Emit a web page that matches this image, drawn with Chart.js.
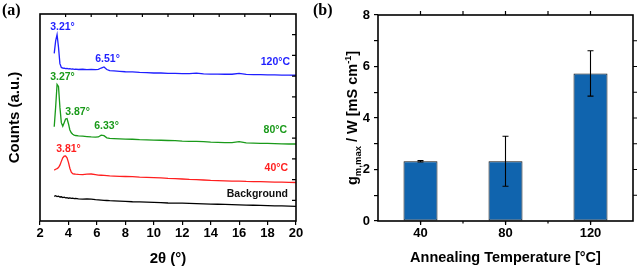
<!DOCTYPE html>
<html>
<head>
<meta charset="utf-8">
<script src="https://cdn.jsdelivr.net/npm/chart.js@4"></script>
<style>
  body { margin: 0; background: #fff; }
  #wrap { position: relative; width: 640px; height: 268px; }
  canvas { position: absolute; top: 0; }
  .panel { position: absolute; top: 1px; font: bold 16px "Liberation Serif", "Times New Roman", serif; color: #000; }
</style>
</head>
<body>
<div id="wrap">
  <canvas id="xrd" width="320" height="268" style="left:0"></canvas>
  <canvas id="gm" width="320" height="268" style="left:320px"></canvas>
  <div class="panel" style="left:2px">(a)</div>
  <div class="panel" style="left:313px">(b)</div>
</div>
<script>
// (a) XRD patterns, counts in arbitrary units
const twoTheta = [3.0, 3.1, 3.2, 3.3, 3.4, 3.5, 3.6, 3.7, 3.8, 3.9, 4.0, 4.1, 4.2, 4.3, 4.4, 4.5, 4.7,
  5.0, 5.3, 5.6, 5.9, 6.1, 6.3, 6.5, 6.7, 6.9, 7.2, 7.6, 8.0, 8.5, 9.0, 9.5, 10, 10.5, 11, 11.5,
  12, 12.5, 13, 13.5, 14, 14.5, 15, 15.5, 16, 16.5, 17, 17.5, 18, 18.5, 19, 19.5, 20];
const counts120 = [81, 87, 90, 84, 76, 74.2, 73.9, 73.8, 73.6, 73.7, 73.5, 73.6, 73.4, 73.5, 73.3, 73.4, 73.2,
  73.3, 73.1, 73.2, 73.1, 73.3, 73.9, 74.4, 73.2, 72.6, 72.5, 72.3, 72.1, 72.0, 71.8, 71.7, 71.5, 71.5, 71.3, 71.3,
  71.2, 71.2, 71.4, 71.1, 71.0, 71.0, 70.9, 70.9, 71.3, 70.8, 70.7, 70.7, 70.6, 70.6, 70.5, 70.5, 70.4];
const counts80 = [45.5, 55, 66, 65, 55, 47.5, 45.8, 47.5, 49.3, 49.5, 47, 44, 42.6, 41.9, 41.5, 41.3, 41.1,
  41.0, 40.8, 40.6, 40.5, 40.6, 41.5, 41.2, 40.2, 39.9, 39.8, 39.7, 39.6, 39.5, 39.3, 39.2, 39.1, 39.0, 38.9, 38.8,
  38.6, 38.5, 38.5, 38.3, 38.1, 38.0, 37.9, 37.9, 38.3, 37.7, 37.6, 37.5, 37.5, 37.4, 37.3, 37.2, 37.2];
const counts40 = [24.6, 25.0, 25.3, 25.8, 27, 28.8, 30.5, 31.3, 31.4, 30.5, 28.3, 25.5, 23.6, 22.9, 22.7, 22.6, 22.5,
  22.4, 22.6, 22.7, 22.4, 22.2, 22.1, 22.0, 21.9, 21.8, 21.7, 21.6, 21.5, 21.4, 21.2, 21.1, 21.0, 20.8, 20.6, 20.5,
  20.3, 20.1, 20.0, 19.8, 19.6, 19.5, 19.4, 19.3, 19.3, 19.1, 19.0, 19.0, 18.9, 18.8, 18.8, 18.7, 18.6];
const countsBg = [11.9, 12.2, 11.8, 12.0, 11.6, 11.7, 11.3, 11.5, 11.2, 11.3, 11.0, 11.2, 10.9, 11.0, 10.8, 10.9, 10.7,
  10.6, 10.7, 10.6, 10.3, 10.2, 10.1, 10.0, 9.9, 9.8, 9.7, 9.6, 9.5, 9.3, 9.2, 9.1, 9.0, 8.9, 8.7, 8.6,
  8.6, 8.5, 8.4, 8.3, 8.2, 8.1, 8.0, 7.9, 7.8, 7.7, 7.6, 7.5, 7.4, 7.3, 7.3, 7.2, 7.1];

// (b) transconductance vs annealing temperature
const temps = ['40', '80', '120'];
const gmMax = [2.32, 2.32, 5.73];
const gmErr = [0.03, 0.97, 0.88];

const BLUE = '#1f1fff', GREEN = '#1a9a1a', RED = '#ff1f1f';
const FONT = '"Liberation Sans", Arial, sans-serif';

function pts(ys) {
  return twoTheta.map((t, i) => ({ x: t, y: ys[i] }));
}

// box around the plot area plus the ticks on top/right edges
const framePlugin = {
  id: 'frame',
  afterDraw(chart, args, opts) {
    const { ctx, chartArea: a } = chart;
    ctx.save();
    ctx.strokeStyle = '#000';
    ctx.lineWidth = 1.6;
    ctx.strokeRect(a.left, a.top, a.right - a.left, a.bottom - a.top);
    ctx.lineWidth = 1.2;
    ctx.beginPath();
    const t = opts.top, r = opts.right, b = opts.bottom;
    for (let i = 1; i < t.n; i++) {
      const x = a.left + (a.right - a.left) * i / t.n;
      ctx.moveTo(x, a.top);
      ctx.lineTo(x, a.top + (t.out ? -t.len : t.len));
    }
    for (let i = 1; i < r.n; i++) {
      const y = a.top + (a.bottom - a.top) * i / r.n;
      ctx.moveTo(a.right, y);
      ctx.lineTo(a.right + (r.out ? r.len : -r.len), y);
    }
    if (b) {
      for (let i = 1; i < b.n; i++) {
        const x = a.left + (a.right - a.left) * i / b.n;
        ctx.moveTo(x, a.bottom);
        ctx.lineTo(x, a.bottom + b.len);
      }
    }
    ctx.stroke();
    ctx.restore();
  }
};

// peak labels, placed in data coordinates
const peakLabels = [
  { text: '3.21°', x: 3.58, y: 93.8, color: BLUE },
  { text: '6.51°', x: 6.75, y: 78.1, color: BLUE },
  { text: '120°C', x: 19.58, y: 76.7, color: BLUE, align: 'right' },
  { text: '3.27°', x: 3.58, y: 69.7, color: GREEN },
  { text: '3.87°', x: 4.64, y: 52.8, color: GREEN },
  { text: '6.33°', x: 6.68, y: 45.6, color: GREEN },
  { text: '80°C', x: 19.37, y: 44, color: GREEN, align: 'right' },
  { text: '3.81°', x: 4.0, y: 34.6, color: RED },
  { text: '40°C', x: 19.44, y: 25.7, color: RED, align: 'right' },
  { text: 'Background', x: 19.44, y: 13, color: '#111', align: 'right' }
];
const labelPlugin = {
  id: 'peakText',
  afterDatasetsDraw(chart) {
    const { ctx, scales } = chart;
    ctx.save();
    ctx.font = 'bold 10.5px ' + FONT;
    ctx.textBaseline = 'middle';
    peakLabels.forEach(l => {
      ctx.fillStyle = l.color;
      ctx.textAlign = l.align || 'center';
      ctx.fillText(l.text, scales.x.getPixelForValue(l.x), scales.y.getPixelForValue(l.y));
    });
    ctx.restore();
  }
};

function lineSet(label, ys, color) {
  return { label, data: pts(ys), borderColor: color, borderWidth: 1.3, pointRadius: 0, tension: 0 };
}

new Chart(document.getElementById('xrd'), {
  type: 'line',
  data: {
    datasets: [
      lineSet('120°C', counts120, BLUE),
      lineSet('80°C', counts80, GREEN),
      lineSet('40°C', counts40, RED),
      lineSet('Background', countsBg, '#000')
    ]
  },
  options: {
    responsive: false,
    animation: false,
    layout: { padding: { top: 14, right: 24, left: 0, bottom: 0 } },
    plugins: {
      legend: { display: false },
      tooltip: { enabled: false },
      frame: { top: { n: 10, len: 3 }, right: { n: 10, len: 4 } }
    },
    scales: {
      x: {
        type: 'linear', min: 2, max: 20,
        afterFit: s => { s.height = 47; },
        ticks: { stepSize: 2, color: '#000', padding: 1, font: { family: FONT, size: 13, weight: 'bold' } },
        grid: { drawOnChartArea: false, tickLength: 4, color: '#000', lineWidth: 1.2 },
        border: { display: false },
        title: { display: true, text: '2θ (°)', color: '#000', padding: { top: 0, bottom: 0 },
          font: { family: FONT, size: 15, weight: 'bold' } }
      },
      y: {
        min: 0, max: 100,
        afterFit: s => { s.width = 40; },
        ticks: { display: false },
        grid: { display: false },
        border: { display: false },
        title: { display: true, text: 'Counts (a.u.)', color: '#000', padding: { top: 6, bottom: 0 },
          font: { family: FONT, size: 15, weight: 'bold' } }
      }
    }
  },
  plugins: [framePlugin, labelPlugin]
});

// error bars and the rotated y title with sub/superscripts
const errorPlugin = {
  id: 'errBars',
  afterDatasetsDraw(chart) {
    const { ctx, scales } = chart;
    const meta = chart.getDatasetMeta(0);
    ctx.save();
    ctx.strokeStyle = '#000';
    ctx.lineWidth = 1.1;
    ctx.beginPath();
    meta.data.forEach((bar, i) => {
      const hi = scales.y.getPixelForValue(gmMax[i] + gmErr[i]);
      const lo = scales.y.getPixelForValue(gmMax[i] - gmErr[i]);
      ctx.moveTo(bar.x, hi); ctx.lineTo(bar.x, lo);
      ctx.moveTo(bar.x - 3, hi); ctx.lineTo(bar.x + 3, hi);
      ctx.moveTo(bar.x - 3, lo); ctx.lineTo(bar.x + 3, lo);
    });
    ctx.stroke();
    ctx.restore();
  },
  afterDraw(chart) {
    const { ctx, chartArea: a } = chart;
    const parts = [
      ['g', 14.5, 0], ['m,max', 9.5, 3.5], [' / W [mS cm', 14.5, 0], ['-1', 9, -6], [']', 14.5, 0]
    ];
    ctx.save();
    ctx.fillStyle = '#000';
    ctx.textBaseline = 'alphabetic';
    let total = 0;
    parts.forEach(p => { ctx.font = 'bold ' + p[1] + 'px ' + FONT; total += ctx.measureText(p[0]).width; });
    ctx.translate(37, (a.top + a.bottom) / 2);
    ctx.rotate(-Math.PI / 2);
    let x = -total / 2;
    parts.forEach(p => {
      ctx.font = 'bold ' + p[1] + 'px ' + FONT;
      ctx.fillText(p[0], x, p[2]);
      x += ctx.measureText(p[0]).width;
    });
    ctx.restore();
  }
};

new Chart(document.getElementById('gm'), {
  type: 'bar',
  data: {
    labels: temps,
    datasets: [{
      data: gmMax,
      backgroundColor: '#1064ae',
      borderColor: '#111',
      borderWidth: 1,
      borderSkipped: false,
      categoryPercentage: 1,
      barPercentage: 0.4
    }]
  },
  options: {
    responsive: false,
    animation: false,
    layout: { padding: { top: 15, right: 7, left: 0, bottom: 0 } },
    plugins: {
      legend: { display: false },
      tooltip: { enabled: false },
      frame: { top: { n: 6, len: 4, out: true }, right: { n: 8, len: 4, out: true }, bottom: { n: 6, len: 2.5 } }
    },
    scales: {
      x: {
        afterFit: s => { s.height = 47; },
        ticks: { color: '#000', padding: 1, font: { family: FONT, size: 13, weight: 'bold' } },
        grid: { offset: false, drawOnChartArea: false, tickLength: 4, color: '#000', lineWidth: 1.2 },
        border: { display: false },
        title: { display: true, text: 'Annealing Temperature [°C]', color: '#000', padding: { top: 0, bottom: 1 },
          font: { family: FONT, size: 14.5, weight: 'bold' } }
      },
      y: {
        min: 0, max: 8,
        afterFit: s => { s.width = 58; },
        ticks: { stepSize: 1, color: '#000', padding: 4, font: { family: FONT, size: 13, weight: 'bold' },
          callback: v => (v % 2 === 0 ? v : '') },
        grid: { drawOnChartArea: false, tickLength: 4, color: '#000', lineWidth: 1.2 },
        border: { display: false }
      }
    }
  },
  plugins: [framePlugin, errorPlugin]
});
</script>
</body>
</html>
